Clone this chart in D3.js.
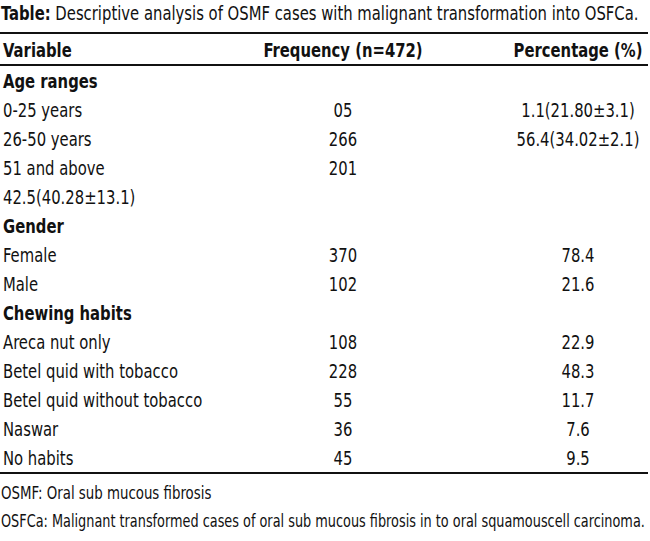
<!DOCTYPE html>
<html>
<head>
<meta charset="utf-8">
<script src="https://cdn.jsdelivr.net/npm/d3@7"></script>
<style>
  body { margin: 0; background: #fff; }
  svg text { font-family: "DejaVu Sans Condensed", "DejaVu Sans", sans-serif; font-stretch: condensed; fill: #111; }
</style>
</head>
<body>
<svg id="chart"></svg>
<script>
// table content
const titleBold = "Table:";
const titleText = " Descriptive analysis of OSMF cases with malignant transformation into OSFCa.";
const headers = ["Variable", "Frequency (n=472)", "Percentage (%)"];
const rowLabels = [
  "Age ranges", "0-25 years", "26-50 years", "51 and above", "42.5(40.28\u00b113.1)",
  "Gender", "Female", "Male",
  "Chewing habits", "Areca nut only", "Betel quid with tobacco", "Betel quid without tobacco", "Naswar", "No habits"
];
const isGroup = [true, false, false, false, false, true, false, false, true, false, false, false, false, false];
const frequencies = ["", "05", "266", "201", "", "", "370", "102", "", "108", "228", "55", "36", "45"];
const percentages = ["", "1.1(21.80\u00b13.1)", "56.4(34.02\u00b12.1)", "", "", "", "78.4", "21.6", "", "22.9", "48.3", "11.7", "7.6", "9.5"];
const footnotes = [
  "OSMF: Oral sub mucous fibrosis",
  "OSFCa: Malignant transformed cases of oral sub mucous fibrosis in to oral squamouscell carcinoma."
];

const width = 650, height = 541;
const svg = d3.select("#chart").attr("width", width).attr("height", height);

const fs = 20;
const x = d3.scaleOrdinal().domain(["label", "freq", "pct"]).range([3, 343, 578]);
const anchor = { label: "start", freq: "middle", pct: "middle" };
const y = d3.scalePoint().domain(d3.range(rowLabels.length)).range([81, 458]);
const base = 7; // centre -> baseline

// title
const title = svg.append("text").attr("font-size", fs);
title.append("tspan").attr("font-weight", "bold").text(titleBold);
title.append("tspan").text(titleText);

// the source uses a condensed face: squeeze horizontally to the title's width
const k = 638 / title.node().getComputedTextLength();
const place = (px, py, kk = k) => `translate(${px},${py}) scale(${kk},1)`;
title.attr("transform", place(1, 13 + base));

// rules
const rules = [33, 65, 473];
svg.selectAll("line.rule").data(rules).join("line")
  .attr("class", "rule")
  .attr("x1", 0).attr("x2", 648)
  .attr("y1", d => d).attr("y2", d => d)
  .attr("stroke", "#111").attr("stroke-width", 2);

// header
svg.selectAll("text.head").data(headers).join("text")
  .attr("class", "head")
  .attr("transform", (d, i) => place(x(x.domain()[i]), 50 + base))
  .attr("text-anchor", (d, i) => anchor[x.domain()[i]])
  .attr("font-size", fs).attr("font-weight", "bold")
  .text(d => d);

// body rows
const rows = rowLabels.map((d, i) => ({ i, label: d, freq: frequencies[i], pct: percentages[i], group: isGroup[i] }));
const rowG = svg.selectAll("g.row").data(rows).join("g")
  .attr("class", "row");

["label", "freq", "pct"].forEach(col => {
  rowG.filter(d => d[col] !== "").append("text")
    .attr("transform", d => place(x(col), y(d.i) + base))
    .attr("text-anchor", anchor[col])
    .attr("font-size", fs)
    .attr("font-weight", d => col === "label" && d.group ? "bold" : null)
    .text(d => d[col]);
});

// footnotes
const footRight = [null, 645];
svg.selectAll("text.foot").data(footnotes).join("text")
  .attr("class", "foot")
  .attr("font-size", 18)
  .text(d => d)
  .attr("transform", function (d, i) {
    const kk = footRight[i] ? (footRight[i] - 1) / this.getComputedTextLength() : k;
    return place(1, 493 + i * 28 + base - 1, kk);
  });
</script>
</body>
</html>
